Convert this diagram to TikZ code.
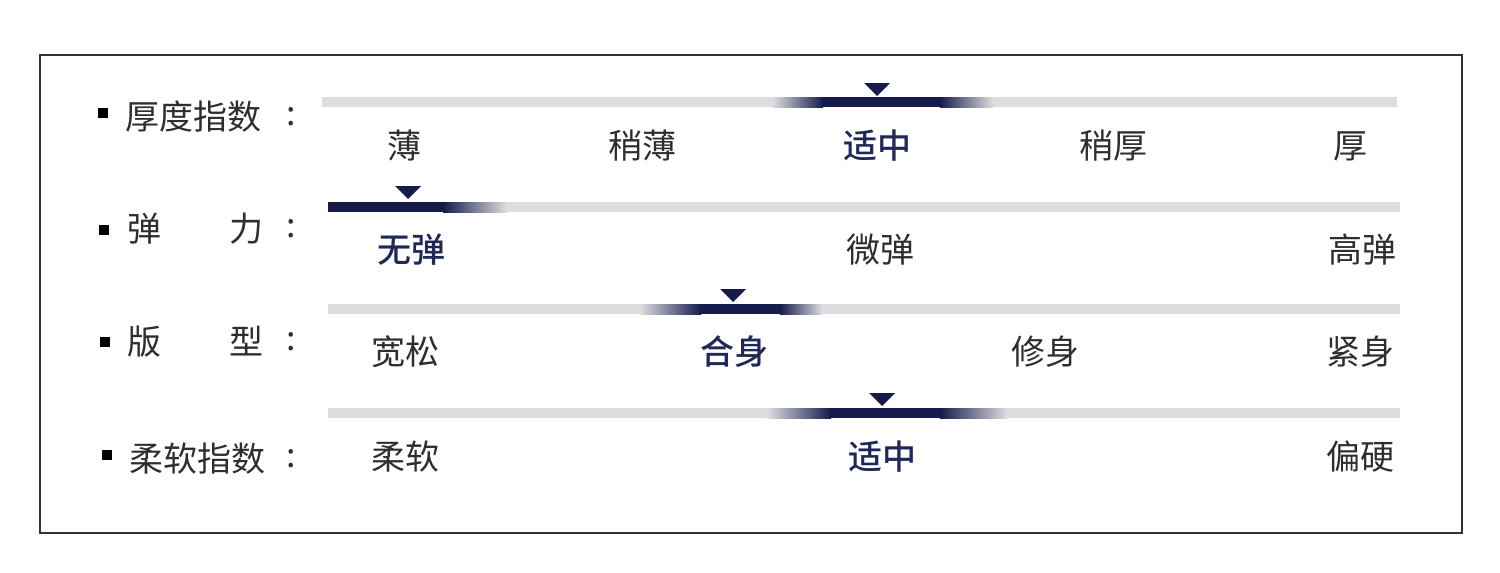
\documentclass[tikz,border=0pt]{standalone}
\usepackage{fontspec}
\usepackage{tikz}
\usetikzlibrary{positioning}
\newfontfamily\cjk[BoldFont={Noto Sans CJK SC Medium}]{Noto Sans CJK SC}
\definecolor{Ink}{HTML}{2E2E2E}
\definecolor{Navy}{HTML}{161B4C}
\definecolor{NavyText}{HTML}{1F2858}
\definecolor{Track}{HTML}{DDDDDF}
\definecolor{Frame}{HTML}{2E3448}

\begin{document}
\begin{tikzpicture}[
  x=0.5pt, y=-0.5pt,
  every node/.style={inner sep=0pt, text=Ink, font=\cjk\fontsize{17}{20}\selectfont},
  pick/.style={text=NavyText, font=\cjk\bfseries\fontsize{17}{20}\selectfont},
  rowlabel/.style={anchor=west},
  bullet/.style={fill=black, minimum size=5pt},
  track/.style={fill=Track},
  fadein/.style={left color=Track, right color=Navy},
  fadeout/.style={left color=Navy, right color=Track},
  marker/.style={fill=Navy}
]
\useasboundingbox (0,0) rectangle (1500,573);
\draw[Frame, line width=1pt] (40,55) rectangle (1462,533);

% row labels
\node[bullet] (b1) at (103,113) {};
\node[rowlabel] (thick) at (125,117) {厚度指数};
\node (c1) at (291,117) {:};
\node[bullet] (b2) at (104,230) {};
\node[rowlabel] (elastic) at (127,229) {弹\hspace{2em}力};
\node (c2) at (291,229) {:};
\node[bullet] (b3) at (105,342) {};
\node[rowlabel] (cut) at (127,342) {版\hspace{2em}型};
\node (c3) at (291,342) {:};
\node[bullet] (b4) at (107,455) {};
\node[rowlabel] (soft) at (129,459) {柔软指数};
\node (c4) at (291,459) {:};

% scale bars
\fill[track] (322,97) rectangle (1397,107);
\fill[fadein] (773,97) rectangle (823,107);
\fill[Navy] (822,97) rectangle (941,107);
\fill[fadeout] (940,97) rectangle (993,107);
\fill[marker] (877,89) +(-13,-6) -- +(13,-6) -- +(0,7) -- cycle;

\fill[track] (328,202) rectangle (1400,212);
\fill[Navy] (328,202) rectangle (444,212);
\fill[fadeout] (443,202) rectangle (507,212);
\fill[marker] (408,192) +(-13,-6) -- +(13,-6) -- +(0,7) -- cycle;

\fill[track] (328,304) rectangle (1400,314);
\fill[fadein] (640,304) rectangle (701,314);
\fill[Navy] (700,304) rectangle (781,314);
\fill[fadeout] (780,304) rectangle (822,314);
\fill[marker] (733,295) +(-13,-6) -- +(13,-6) -- +(0,7) -- cycle;

\fill[track] (328,408) rectangle (1400,418);
\fill[fadein] (767,408) rectangle (831,418);
\fill[Navy] (830,408) rectangle (941,418);
\fill[fadeout] (940,408) rectangle (1007,418);
\fill[marker] (882,399) +(-13,-6) -- +(13,-6) -- +(0,7) -- cycle;

% scale ticks
\node (t11) at (404,146) {薄};
\node (t12) at (642,146) {稍薄};
\node[pick] (t13) at (877,146) {适中};
\node (t14) at (1113,146) {稍厚};
\node (t15) at (1350,146) {厚};

\node[pick] (t21) at (411,250) {无弹};
\node (t22) at (880,250) {微弹};
\node (t23) at (1362,250) {高弹};

\node (t31) at (405,352) {宽松};
\node[pick] (t32) at (734,352) {合身};
\node (t33) at (1045,352) {修身};
\node (t34) at (1360,352) {紧身};

\node (t41) at (405,457) {柔软};
\node[pick] (t42) at (882,457) {适中};
\node (t43) at (1360,457) {偏硬};
\end{tikzpicture}
\end{document}
